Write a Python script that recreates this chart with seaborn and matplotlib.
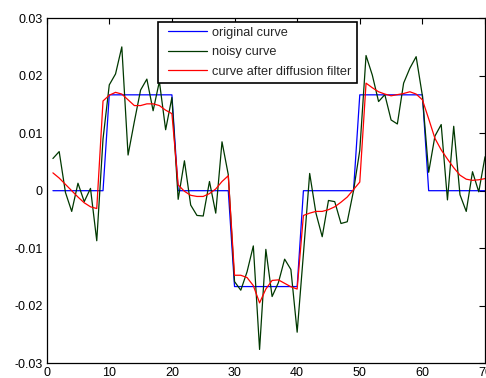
import numpy as np
import pandas as pd
import matplotlib
matplotlib.use("Agg")
import matplotlib.pyplot as plt
from matplotlib.lines import Line2D
from matplotlib.legend_handler import HandlerLine2D
import seaborn as sns

# sample index
samples = list(range(1, 71))

# clean step signal
original = ([0.0] * 9 + [1 / 60] * 11 + [0.0] * 9 + [-1 / 60] * 11
            + [0.0] * 9 + [1 / 60] * 11 + [0.0] * 10)

# signal with additive noise
noisy = [0.0056, 0.0068, -0.0003, -0.0036, 0.0013, -0.0019, 0.0004, -0.0087, 0.0090, 0.0184,
         0.0203, 0.0250, 0.0062, 0.0120, 0.0175, 0.0194, 0.0139, 0.0190, 0.0106, 0.0162,
         -0.0015, 0.0052, -0.0025, -0.0043, -0.0044, 0.0016, -0.0039, 0.0085, 0.0028, -0.0158,
         -0.0173, -0.0141, -0.0096, -0.0276, -0.0102, -0.0184, -0.0160, -0.0119, -0.0137, -0.0246,
         -0.0110, 0.0030, -0.0039, -0.0080, -0.0017, -0.0019, -0.0057, -0.0054, 0.0000, 0.0070,
         0.0235, 0.0201, 0.0155, 0.0167, 0.0123, 0.0116, 0.0187, 0.0213, 0.0233, 0.0165,
         0.0032, 0.0095, 0.0115, -0.0016, 0.0112, -0.0007, -0.0036, 0.0033, -0.0002, 0.0059]

# result of the diffusion filter
filtered = [0.0031, 0.0022, 0.0011, 0.0000, -0.0011, -0.0021, -0.0028, -0.0031, 0.0156, 0.0166,
            0.0171, 0.0168, 0.0158, 0.0148, 0.0148, 0.0151, 0.0151, 0.0148, 0.0140, 0.0134,
            0.0010, -0.0001, -0.0008, -0.0010, -0.0010, -0.0005, 0.0003, 0.0016, 0.0026, -0.0147,
            -0.0147, -0.0151, -0.0165, -0.0195, -0.0171, -0.0156, -0.0155, -0.0161, -0.0167, -0.0171,
            -0.0043, -0.0039, -0.0036, -0.0036, -0.0033, -0.0028, -0.0020, -0.0011, 0.0002, 0.0015,
            0.0187, 0.0179, 0.0172, 0.0168, 0.0165, 0.0167, 0.0169, 0.0172, 0.0168, 0.0158,
            0.0125, 0.0091, 0.0071, 0.0055, 0.0040, 0.0027, 0.0020, 0.0018, 0.0019, 0.0021]

labels = ["original curve", "noisy curve", "curve after diffusion filter"]
colors = ["#0000ff", "#003800", "#ff0000"]

x_ticks = [0, 10, 20, 30, 40, 50, 60, 70]
y_ticks = [-0.03, -0.02, -0.01, 0, 0.01, 0.02, 0.03]
y_ticklabels = ["-0.03", "-0.02", "-0.01", "0", "0.01", "0.02", "0.03"]

df = pd.DataFrame({
    "n": samples * 3,
    "value": original + noisy + filtered,
    "series": sum([[lab] * len(samples) for lab in labels], []),
})

sns.set_theme(style="white")
plt.rcParams["font.family"] = ["Liberation Sans", "DejaVu Sans"]
plt.rcParams["xtick.direction"] = "in"
plt.rcParams["ytick.direction"] = "in"

fig = plt.figure(figsize=(4.86, 3.78), dpi=100)
ax = fig.add_axes([0.096, 0.039, 0.902, 0.913])

sns.lineplot(data=df, x="n", y="value", hue="series", hue_order=labels,
             palette=colors, linewidth=0.9, ax=ax, legend=True)

ax.set_xlim(0, 70)
ax.set_ylim(-0.03, 0.03)
ax.set_xticks(x_ticks)
ax.set_xticklabels([str(t) for t in x_ticks])
ax.set_yticks(y_ticks)
ax.set_yticklabels(y_ticklabels)
ax.set_xlabel("")
ax.set_ylabel("")
ax.tick_params(axis="both", which="both", direction="in", length=4, width=0.8,
               labelsize=9, colors="black", top=True, right=True, pad=3)
for s in ax.spines.values():
    s.set_color("black")
    s.set_linewidth(0.9)

handles, _ = ax.get_legend_handles_labels()
leg = ax.legend(handles, labels, loc="upper left", bbox_to_anchor=(0.254, 0.990),
                borderaxespad=0, fontsize=9.2, frameon=True, fancybox=False,
                framealpha=1, edgecolor="black", handlelength=3.4, handletextpad=0.45,
                labelspacing=0.58, borderpad=0.4,
                handler_map={Line2D: HandlerLine2D(xpad=0.35)})
leg.get_frame().set_linewidth(1.2)

fig.savefig("out.png", dpi=100)
